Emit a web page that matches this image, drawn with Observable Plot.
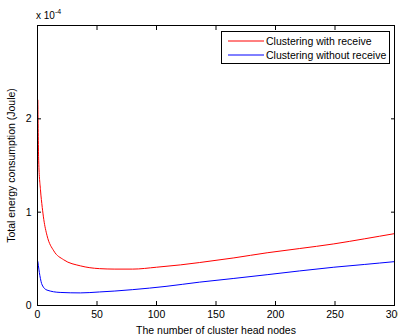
<!DOCTYPE html>
<html>
<head>
<meta charset="utf-8">
<script src="https://cdn.jsdelivr.net/npm/d3@7"></script>
<script src="https://cdn.jsdelivr.net/npm/@observablehq/plot@0.6"></script>
<style>
  body { margin: 0; background: #fff; font-family: "Liberation Sans", Arial, sans-serif; }
  #wrap { position: relative; width: 398px; height: 335px; overflow: hidden; }
  #legend { position: absolute; left: 221px; top: 31px; width: 167px; height: 31px; border: 1px solid #000; background: #fff; font-size: 10.5px; }
  .row { position: absolute; left: 6px; height: 14px; display: flex; align-items: center; }
  .row svg { margin-right: 2px; }
  #expo { position: absolute; left: 36px; top: 9px; font-size: 10px; }
  #expo sup { font-size: 7px; position: relative; top: -1px; }
</style>
</head>
<body>
<div id="wrap"></div>
<script>
// x values (number of cluster head nodes)
const nodesRed = [0.3, 1, 2.5, 4, 5.3, 8, 13.7, 22, 36, 52, 65, 80, 100, 120, 136, 165, 193, 220, 249, 275, 300];
// energy, in units of 1e-4 Joule
const withReceive = [2.2, 1.55, 1.24, 1.05, 0.92, 0.75, 0.585, 0.49, 0.425, 0.395, 0.39, 0.39, 0.41, 0.435, 0.46, 0.51, 0.565, 0.61, 0.66, 0.715, 0.77];
const nodesBlue = [0.3, 2, 3.9, 8, 19, 36, 52, 65, 80, 108, 136, 165, 193, 220, 249, 275, 300];
const withoutReceive = [0.47, 0.32, 0.22, 0.165, 0.14, 0.135, 0.145, 0.155, 0.17, 0.205, 0.25, 0.29, 0.33, 0.37, 0.41, 0.44, 0.47];
const seriesNames = ["Clustering with receive", "Clustering without receive"];
const seriesColors = ["#ff0000", "#0000ff"];
const xTicks = [0, 50, 100, 150, 200, 250, 300];
const yTicks = [0, 1, 2];

const red = nodesRed.map((x, i) => ({x, y: withReceive[i]}));
const blue = nodesBlue.map((x, i) => ({x, y: withoutReceive[i]}));

const chart = Plot.plot({
  width: 398,
  height: 335,
  marginLeft: 37,
  marginRight: 4,
  marginTop: 25,
  marginBottom: 30,
  style: {fontFamily: "Liberation Sans, Arial, sans-serif", fontSize: "10.5px", color: "#000", background: "#fff"},
  x: {domain: [0, 300]},
  y: {domain: [0, 3]},
  marks: [
    Plot.line(red, {x: "x", y: "y", stroke: seriesColors[0], strokeWidth: 1, curve: "monotone-x"}),
    Plot.line(blue, {x: "x", y: "y", stroke: seriesColors[1], strokeWidth: 1, curve: "monotone-x"}),
    Plot.axisX({ticks: xTicks, tickSize: -4, tickPadding: 9, tickFormat: d3.format("d"), label: "The number of cluster head nodes", labelAnchor: "center", labelArrow: "none", labelOffset: 28}),
    Plot.axisX({anchor: "top", ticks: xTicks, tickSize: -4, tickFormat: () => "", label: null}),
    Plot.axisY({ticks: yTicks, tickSize: -4, tickPadding: 10, tickFormat: d3.format("d"), label: "Total energy consumption (Joule)", labelAnchor: "center", labelArrow: "none", labelOffset: 30}),
    Plot.axisY({anchor: "right", ticks: yTicks, tickSize: -4, tickFormat: () => "", label: null}),
    Plot.frame({stroke: "#000", strokeWidth: 1})
  ]
});

const wrap = document.getElementById("wrap");
wrap.appendChild(chart);

const expo = document.createElement("div");
expo.id = "expo";
expo.innerHTML = "x 10<sup>-4</sup>";
wrap.appendChild(expo);

const legend = document.createElement("div");
legend.id = "legend";
seriesNames.forEach((name, i) => {
  const row = document.createElement("div");
  row.className = "row";
  row.style.top = (i === 0 ? 2 : 16) + "px";
  row.innerHTML = `<svg width="36" height="4"><line x1="0" x2="36" y1="2" y2="2" stroke="${seriesColors[i]}" stroke-width="1"/></svg><span>${name}</span>`;
  legend.appendChild(row);
});
wrap.appendChild(legend);
</script>
</body>
</html>
